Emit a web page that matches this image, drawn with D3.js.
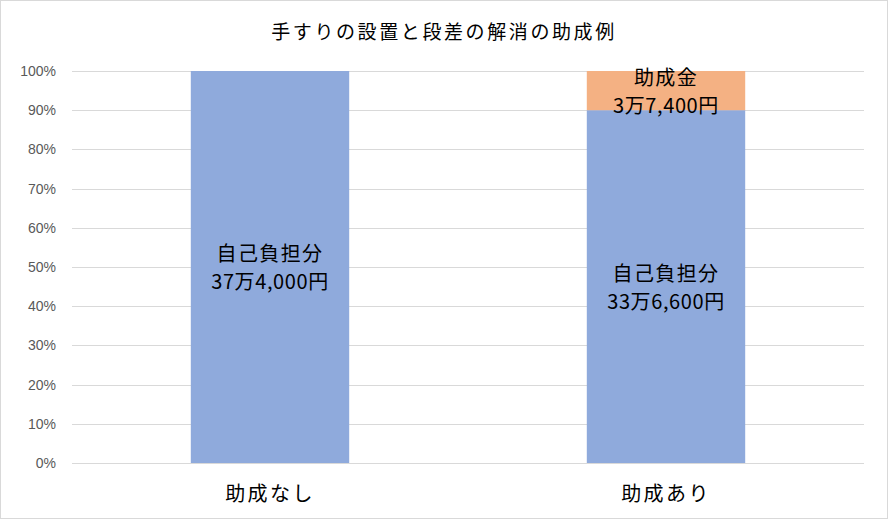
<!DOCTYPE html>
<html><head><meta charset="utf-8">
<script src="https://cdn.jsdelivr.net/npm/d3@7"></script>
<style>body{margin:0;background:#fff}svg{display:block}</style>
</head><body>
<svg id="c" width="888" height="519"></svg>
<script>
const title = "手すりの設置と段差の解消の助成例";
const categories = ["助成なし", "助成あり"];
const seriesNames = ["自己負担分", "助成金"];
const selfPay = [374000, 336600];
const subsidy = [0, 37400];
const valueLabels = [["37万4,000円", ""], ["33万6,600円", "3万7,400円"]];
const yTicks = [0, 0.1, 0.2, 0.3, 0.4, 0.5, 0.6, 0.7, 0.8, 0.9, 1.0];
const colors = ["#8FAADC", "#F4B183"];

const W = 888, H = 519;
const m = {l: 72, r: 24, t: 71, b: 56};
const svg = d3.select("#c");
svg.append("rect").attr("x",0.5).attr("y",0.5).attr("width",W-1).attr("height",H-1)
  .attr("fill","#fff").attr("stroke","#d9d9d9");

const font = "'Noto Sans CJK JP', sans-serif";
svg.append("text").attr("x", W/2).attr("y", 39).attr("text-anchor","middle")
  .attr("font-family", font).attr("font-size", 19).attr("letter-spacing", 2.6)
  .attr("fill","#000").text(title);

const x = d3.scaleBand().domain(categories).range([m.l, W - m.r]).paddingInner(0.6).paddingOuter(0.3);
const y = d3.scaleLinear().domain([0,1]).range([H - m.b, m.t]);

const g = svg.append("g");
g.selectAll("line.grid").data(yTicks).join("line")
  .attr("x1", m.l).attr("x2", W - m.r)
  .attr("y1", d => Math.round(y(d)) + 0.5).attr("y2", d => Math.round(y(d)) + 0.5)
  .attr("stroke", "#d9d9d9").attr("stroke-width", 1);

const yAxis = d3.axisLeft(y).tickValues(yTicks).tickFormat(d3.format(".0%")).tickSize(0).tickPadding(16);
const ya = svg.append("g").attr("transform", `translate(${m.l},0)`).call(yAxis);
ya.select(".domain").remove();
ya.selectAll("text").attr("font-family", "'Liberation Sans', Arial, sans-serif").attr("font-size", 14).attr("fill", "#595959");

const data = categories.map((c, i) => ({cat: c, s: selfPay[i], a: subsidy[i]}));
const stack = d3.stack().keys(["s","a"]).offset(d3.stackOffsetExpand);
const layers = stack(data);

layers.forEach((layer, li) => {
  g.selectAll(null).data(layer).join("rect")
    .attr("x", d => x(d.data.cat)).attr("width", x.bandwidth())
    .attr("y", d => y(d[1])).attr("height", d => y(d[0]) - y(d[1]))
    .attr("fill", colors[li]);
});

layers.forEach((layer, li) => {
  layer.forEach((d, ci) => {
    if (d[1] - d[0] <= 0) return;
    const cx = x(d.data.cat) + x.bandwidth()/2;
    const cy = (y(d[0]) + y(d[1]))/2;
    svg.append("text").attr("text-anchor","middle").attr("font-family", font)
      .attr("font-size", 20).attr("letter-spacing", 1.4).attr("fill", "#000")
      .attr("x", cx).attr("y", cy - 6).text(seriesNames[li]);
    svg.append("text").attr("text-anchor","middle").attr("font-family", font)
      .attr("font-size", 20).attr("letter-spacing", 0.6).attr("fill", "#000")
      .attr("x", cx).attr("y", cy + 22).text(valueLabels[ci][li]);
  });
});

svg.append("line").attr("x1", m.l).attr("x2", W - m.r)
  .attr("y1", Math.round(y(0)) + 0.5).attr("y2", Math.round(y(0)) + 0.5).attr("stroke", "#d9d9d9");

const xAxis = d3.axisBottom(x).tickSize(0).tickPadding(24);
const xa = svg.append("g").attr("transform", `translate(0,${y(0)})`).call(xAxis);
xa.select(".domain").remove();
xa.selectAll("text").attr("font-family", font).attr("font-size", 20).attr("letter-spacing", 2.4).attr("fill", "#000");
</script>
</body></html>
